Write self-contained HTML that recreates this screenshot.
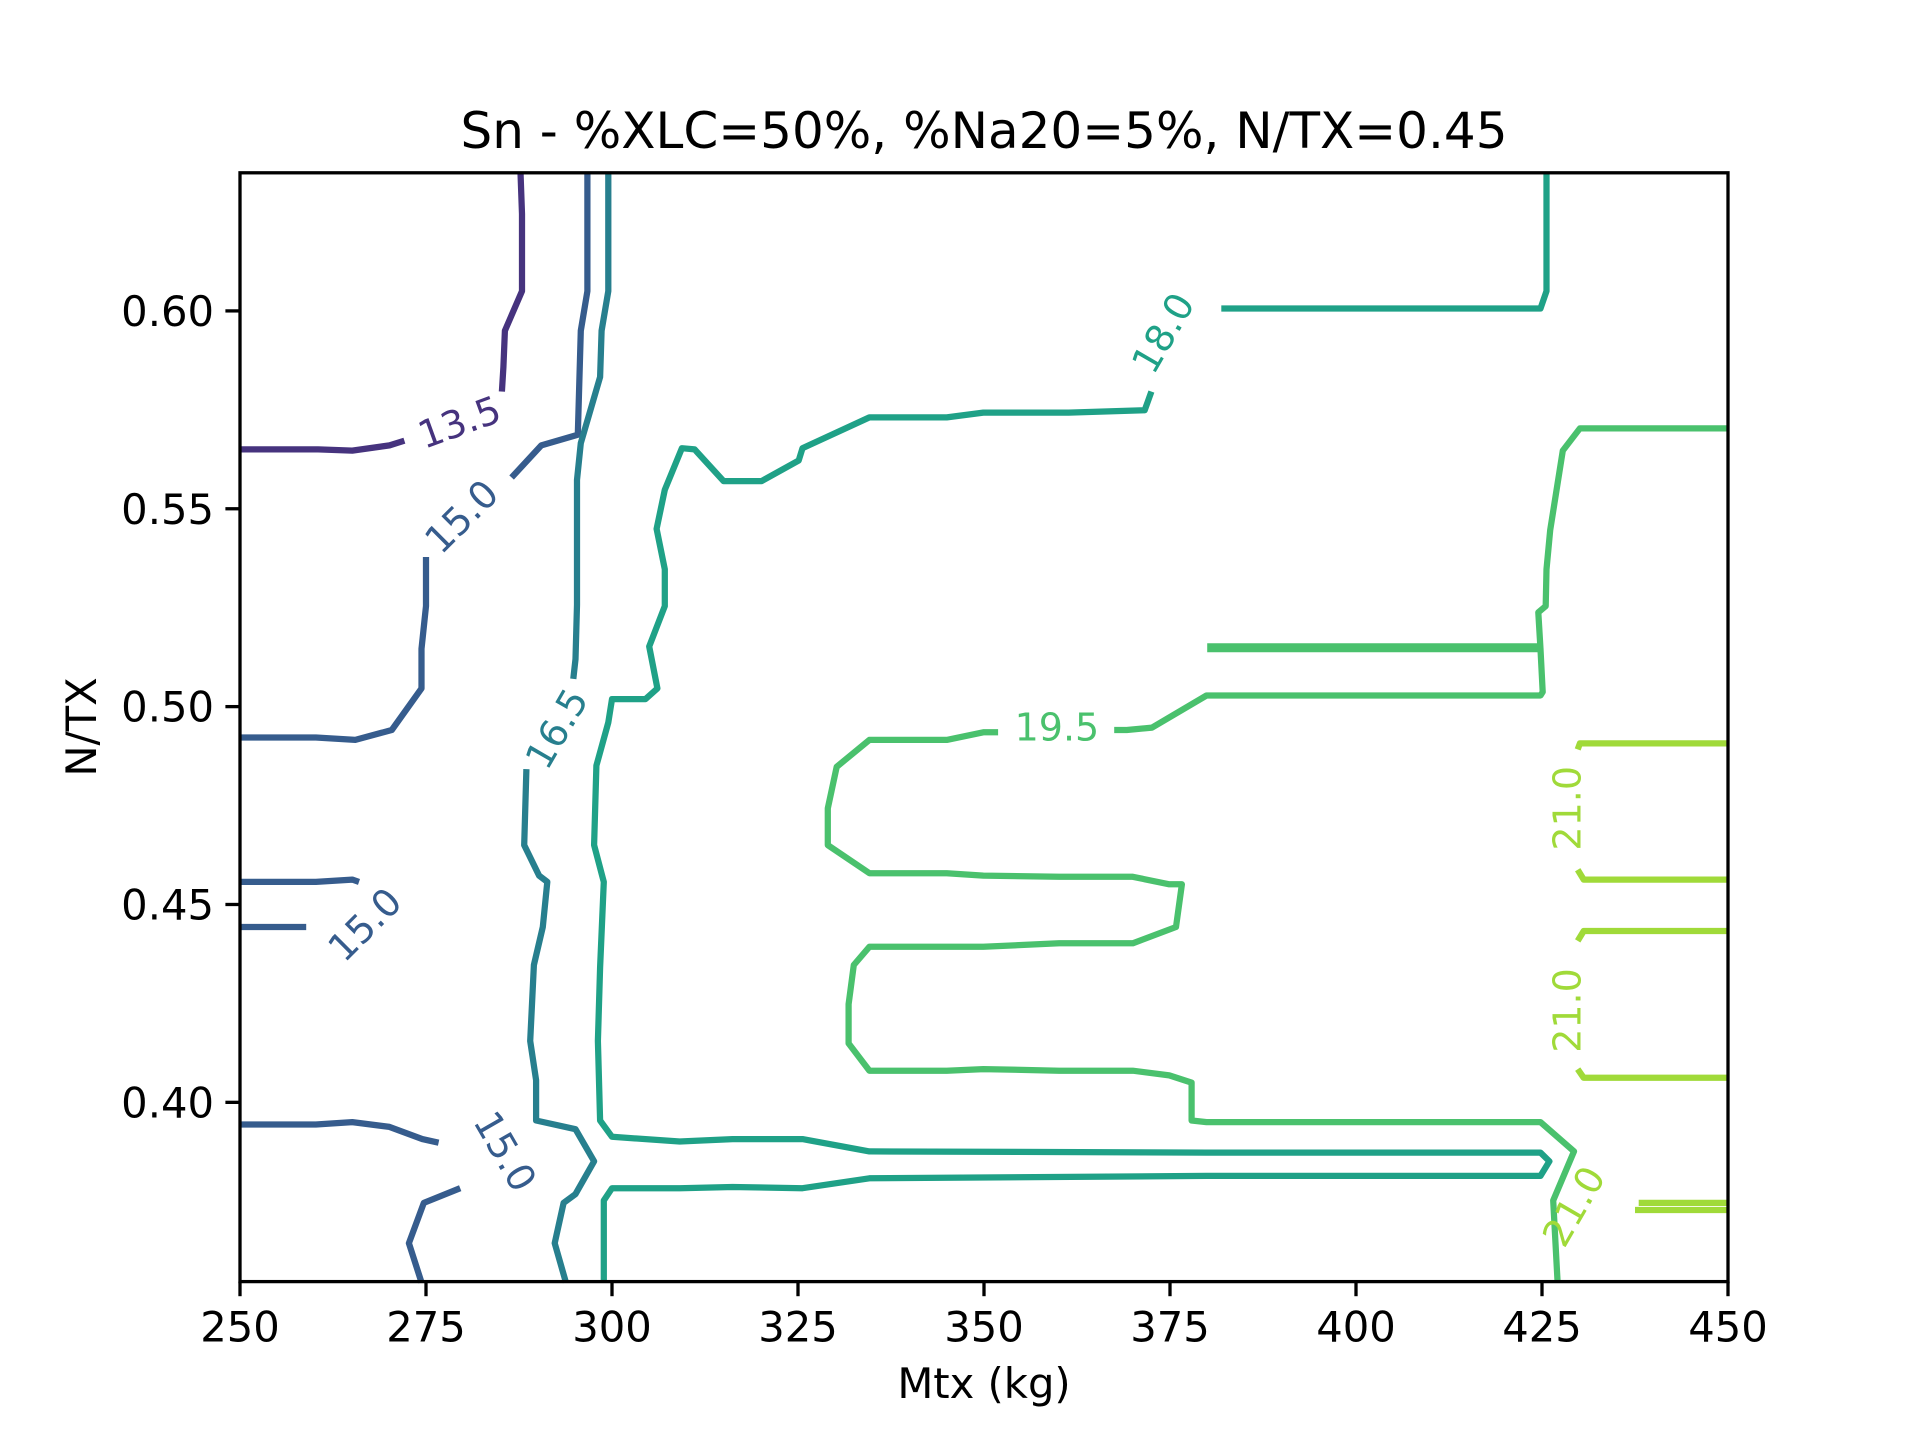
<!DOCTYPE html>
<html><head><meta charset="utf-8"><style>
html,body{margin:0;padding:0;background:#fff;}
svg{display:block;font-family:"DejaVu Sans","Liberation Sans",sans-serif;}
</style></head><body>
<svg id="chart" width="1920" height="1440" viewBox="0 0 1920 1440" xmlns="http://www.w3.org/2000/svg">
<rect width="1920" height="1440" fill="#fff"/>
<text x="984" y="148" font-size="50" text-anchor="middle">Sn - %XLC=50%, %Na20=5%, N/TX=0.45</text>
<g id="lines"></g>
<g id="labels"></g>
<rect x="240" y="172.8" width="1488" height="1108.8" fill="none" stroke="#000" stroke-width="3.3"/>
<g id="axes"></g>
<text x="984" y="1398" font-size="41.7" text-anchor="middle">Mtx (kg)</text>
<text transform="translate(96,727) rotate(-90)" font-size="41.7" text-anchor="middle">N/TX</text>
</svg>
<script>
const xTicks = [250,275,300,325,350,375,400,425,450];
const yTicks = [0.40,0.45,0.50,0.55,0.60];
const levels = ["13.5","15.0","16.5","18.0","19.5","21.0"];
const levelColors = ["#46337e","#365c8d","#277f8e","#1fa187","#4ac16d","#a0da39"];

const seg135a = [[287.7,0.635],[287.9,0.6245],[287.9,0.605],[285.6,0.595],[285.4,0.5858],[285.2,0.5796]];
const seg135b = [[250,0.565],[260.5,0.565],[265.1,0.5647],[270.1,0.566],[272.1,0.5672]];
const seg150a = [[296.7,0.635],[296.7,0.605],[295.8,0.595],[295.4,0.5687],[290.5,0.566],[286.5,0.5579]];
const seg150b = [[275.0,0.5378],[275.0,0.5254],[274.4,0.5146],[274.4,0.5046],[270.4,0.4941],[265.5,0.4916],[260.2,0.4922],[250,0.4922]];
const seg150c = [[250,0.4557],[260.2,0.4557],[265.1,0.4563],[266.0,0.4557]];
const seg150d = [[250,0.4443],[258.9,0.4443]];
const seg150e = [[250,0.3944],[260.2,0.3944],[265.1,0.3950],[270.1,0.3938],[274.5,0.3907],[276.7,0.3898]];
const seg150f = [[279.6,0.3783],[274.7,0.3746],[272.7,0.3644],[274.4,0.3545]];
const seg165a = [[299.5,0.635],[299.5,0.605],[298.6,0.595],[298.4,0.5833],[295.8,0.5666],[295.3,0.5573],[295.3,0.5257],[295.1,0.5120],[294.8,0.5070]];
const seg165b = [[288.5,0.4842],[288.2,0.465],[290.2,0.4573],[291.3,0.4557],[290.7,0.4443],[289.5,0.4347],[289.0,0.4155],[289.8,0.4056],[289.8,0.3954],[295.1,0.3932],[297.6,0.3851],[295.1,0.3768],[293.5,0.3746],[292.3,0.3644],[293.8,0.3545]];
const seg180a = [[425.6,0.635],[425.6,0.605],[424.8,0.6006],[381.9,0.6006]];
const seg180b = [[372.5,0.5796],[371.6,0.5749],[361.4,0.5743],[349.9,0.5743],[345.0,0.5731],[334.6,0.5731],[325.6,0.5653],[325.1,0.5622],[320.1,0.5570],[315.0,0.5570],[311.1,0.5650],[309.4,0.5653],[307.1,0.5548],[306.0,0.5449],[307.1,0.5347],[307.1,0.5254],[305.0,0.5152],[306.1,0.5046],[304.5,0.5019],[300.0,0.5019],[299.5,0.4960],[297.9,0.4851],[297.6,0.4650],[298.9,0.4557],[298.4,0.4341],[298.1,0.4155],[298.4,0.3954],[300.0,0.3913],[309.1,0.3901],[316.2,0.3907],[325.6,0.3907],[334.6,0.3876],[379.9,0.3873],[424.8,0.3873],[426.0,0.3851],[424.8,0.3814],[379.9,0.3814],[334.6,0.3808],[325.6,0.3783],[316.2,0.3786],[309.1,0.3783],[300.0,0.3783],[298.9,0.3752],[298.9,0.3545]];
const seg195a = [[450,0.5703],[430.1,0.5703],[427.8,0.5647],[426.1,0.5446],[425.6,0.5347],[425.5,0.5254],[424.5,0.5238],[424.8,0.5145],[425.1,0.5037],[424.8,0.5028],[379.9,0.5028],[372.6,0.4947],[369.2,0.4941],[367.5,0.4941]];
const seg195b = [[351.9,0.4935],[349.9,0.4935],[345.0,0.4916],[334.6,0.4916],[330.2,0.4848],[329.0,0.4743],[329.0,0.4650],[334.6,0.4579],[345.0,0.4579],[349.9,0.4573],[360.1,0.4570],[370.0,0.4570],[374.9,0.4551],[376.6,0.4551],[375.8,0.4443],[370.0,0.4402],[360.1,0.4402],[349.9,0.4393],[345.0,0.4393],[334.6,0.4393],[332.5,0.4347],[331.8,0.4248],[331.8,0.4149],[334.6,0.4080],[345.0,0.4080],[349.9,0.4084],[360.1,0.4080],[370.0,0.4080],[374.9,0.4068],[377.9,0.4050],[377.9,0.3954],[379.9,0.3950],[424.8,0.3950],[429.3,0.3876],[426.5,0.3752],[427.1,0.3545]];
const seg195c = [[380,0.5149],[424.7,0.5149]];
const seg210a = [[450,0.4907],[430.1,0.4907],[429.8,0.4892]];
const seg210b = [[429.8,0.4588],[430.6,0.4563],[450,0.4563]];
const seg210c = [[450,0.4433],[430.6,0.4433],[429.8,0.4408]];
const seg210d = [[429.8,0.4084],[430.6,0.4062],[450,0.4062]];
const seg210e = [[438.0,0.3746],[450,0.3746]];
const seg210f = [[437.5,0.3728],[450,0.3728]];

const segments = [seg135a,seg135b,seg150a,seg150b,seg150c,seg150d,seg150e,seg150f,seg165a,seg165b,seg180a,seg180b,seg195a,seg195b,seg195c,seg210a,seg210b,seg210c,seg210d,seg210e,seg210f];
const segLevel = [0,0,1,1,1,1,1,1,2,2,3,3,4,4,4,5,5,5,5,5,5];

const labelX = [279.5,279.8,266.8,285.6,292.6,374.1,359.8,428.4,428.4,429.3];
const labelY = [0.5718,0.548,0.4449,0.3876,0.4944,0.5944,0.4947,0.4743,0.4232,0.3737];
const labelLevel = [0,1,1,1,2,3,4,5,5,5];
const labelRot = [-20,-45,-45,60,-60,-60,0,-90,-90,-60];

const X0=240,X1=1728,Y0=1281.6,Y1=172.8;
const xmin=250,xmax=450,ymin=0.3547,ymax=0.6349;
function sx(v){return X0+(v-xmin)/(xmax-xmin)*(X1-X0);}
function sy(v){return Y0-(v-ymin)/(ymax-ymin)*(Y0-Y1);}
const NS="http://www.w3.org/2000/svg";
const gl=document.getElementById('lines');
segments.forEach((s,i)=>{
  const p=document.createElementNS(NS,'polyline');
  p.setAttribute('points',s.map(d=>sx(d[0]).toFixed(1)+','+sy(d[1]).toFixed(1)).join(' '));
  p.setAttribute('fill','none');
  p.setAttribute('stroke',levelColors[segLevel[i]]);
  p.setAttribute('stroke-width',s===seg195c?'9':'6.25');
  p.setAttribute('stroke-linejoin','round');
  
  
  gl.appendChild(p);
});
const glb=document.getElementById('labels');
labelX.forEach((x,i)=>{
  const t=document.createElementNS(NS,'text');
  const px=sx(x),py=sy(labelY[i]);
  t.setAttribute('transform','translate('+px.toFixed(1)+','+py.toFixed(1)+') rotate('+labelRot[i]+')');
  t.setAttribute('text-anchor','middle');
  t.setAttribute('dominant-baseline','central');
  t.setAttribute('font-size','38');
  t.setAttribute('fill',levelColors[labelLevel[i]]);
  t.textContent=levels[labelLevel[i]];
  
  
  glb.appendChild(t);
});
const ga=document.getElementById('axes');
xTicks.forEach(v=>{
  const l=document.createElementNS(NS,'line');
  l.setAttribute('x1',sx(v));l.setAttribute('x2',sx(v));
  l.setAttribute('y1',Y0);l.setAttribute('y2',Y0+14.6);
  l.setAttribute('stroke','#000');l.setAttribute('stroke-width','3.3');
  
  
  ga.appendChild(l);
  const t=document.createElementNS(NS,'text');
  t.setAttribute('x',sx(v));t.setAttribute('y',Y0+60);
  t.setAttribute('text-anchor','middle');t.setAttribute('font-size','41.7');
  t.textContent=String(v);
  
  
  ga.appendChild(t);
});
yTicks.forEach(v=>{
  const l=document.createElementNS(NS,'line');
  l.setAttribute('x1',X0-14.6);l.setAttribute('x2',X0);
  l.setAttribute('y1',sy(v));l.setAttribute('y2',sy(v));
  l.setAttribute('stroke','#000');l.setAttribute('stroke-width','3.3');
  
  
  ga.appendChild(l);
  const t=document.createElementNS(NS,'text');
  t.setAttribute('x',X0-26);t.setAttribute('y',sy(v)+15);
  t.setAttribute('text-anchor','end');t.setAttribute('font-size','41.7');
  t.textContent=v.toFixed(2);
  
  
  ga.appendChild(t);
});
</script>
</body></html>
